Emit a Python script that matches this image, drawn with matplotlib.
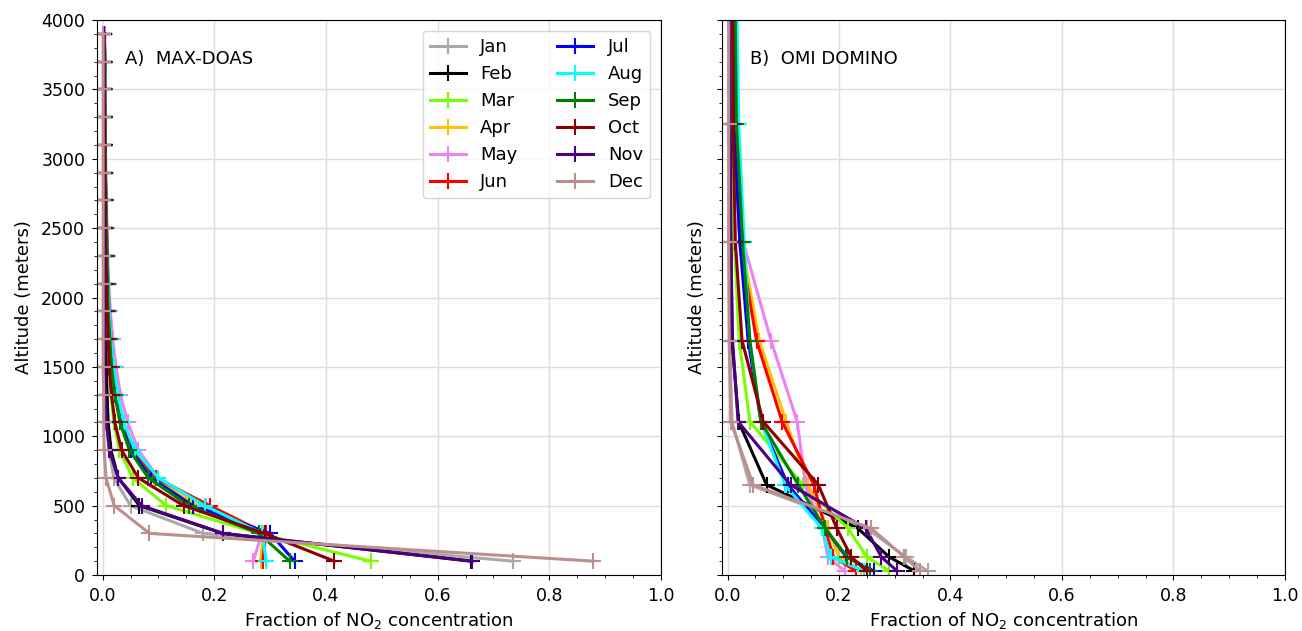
import matplotlib
matplotlib.use("Agg")
import matplotlib.pyplot as plt
from matplotlib.ticker import MultipleLocator

months = ["Jan", "Feb", "Mar", "Apr", "May", "Jun",
          "Jul", "Aug", "Sep", "Oct", "Nov", "Dec"]
colors = ["darkgray", "black", "lawngreen", "#ffc400", "violet", "red",
          "blue", "cyan", "green", "darkred", "indigo", "rosybrown"]

# Panel A: MAX-DOAS levels (m)
alt_maxdoas = [100, 300, 500, 700, 900, 1100, 1300, 1500, 1700, 1900,
               2100, 2300, 2500, 2700, 2900, 3100, 3300, 3500, 3700, 3900]
maxdoas = {
    "Jan": [0.735, 0.18, 0.05, 0.02, 0.012, 0.008, 0.006, 0.005, 0.004, 0.004, 0.003, 0.003, 0.003, 0.002, 0.002, 0.002, 0.002, 0.002, 0.002, 0.002],
    "Feb": [0.66, 0.215, 0.066, 0.028, 0.015, 0.01, 0.008, 0.007, 0.006, 0.005, 0.005, 0.004, 0.004, 0.004, 0.003, 0.003, 0.003, 0.003, 0.003, 0.003],
    "Mar": [0.48, 0.28, 0.114, 0.054, 0.03, 0.02, 0.015, 0.012, 0.01, 0.008, 0.007, 0.006, 0.005, 0.005, 0.004, 0.004, 0.004, 0.003, 0.003, 0.003],
    "Apr": [0.283, 0.288, 0.175, 0.092, 0.056, 0.036, 0.026, 0.02, 0.015, 0.012, 0.01, 0.008, 0.007, 0.006, 0.005, 0.005, 0.004, 0.004, 0.004, 0.003],
    "May": [0.27, 0.285, 0.185, 0.1, 0.064, 0.045, 0.032, 0.024, 0.018, 0.014, 0.011, 0.009, 0.008, 0.007, 0.006, 0.005, 0.005, 0.004, 0.004, 0.004],
    "Jun": [0.287, 0.292, 0.192, 0.095, 0.056, 0.036, 0.026, 0.019, 0.015, 0.012, 0.01, 0.008, 0.007, 0.006, 0.005, 0.005, 0.004, 0.004, 0.004, 0.003],
    "Jul": [0.344, 0.3, 0.162, 0.087, 0.05, 0.032, 0.023, 0.017, 0.013, 0.011, 0.009, 0.008, 0.007, 0.006, 0.005, 0.005, 0.004, 0.004, 0.004, 0.003],
    "Aug": [0.293, 0.286, 0.183, 0.1, 0.058, 0.038, 0.027, 0.02, 0.015, 0.012, 0.01, 0.008, 0.007, 0.006, 0.005, 0.005, 0.004, 0.004, 0.004, 0.003],
    "Sep": [0.335, 0.28, 0.154, 0.082, 0.048, 0.031, 0.022, 0.016, 0.013, 0.01, 0.009, 0.008, 0.007, 0.006, 0.005, 0.005, 0.004, 0.004, 0.004, 0.003],
    "Oct": [0.415, 0.29, 0.145, 0.064, 0.034, 0.022, 0.016, 0.012, 0.01, 0.008, 0.007, 0.006, 0.005, 0.005, 0.004, 0.004, 0.004, 0.003, 0.003, 0.003],
    "Nov": [0.662, 0.216, 0.07, 0.028, 0.012, 0.007, 0.005, 0.004, 0.004, 0.003, 0.003, 0.003, 0.003, 0.002, 0.002, 0.002, 0.002, 0.002, 0.002, 0.002],
    "Dec": [0.878, 0.084, 0.021, 0.006, 0.003, 0.002, 0.002, 0.001, 0.001, 0.001, 0.001, 0.001, 0.001, 0.001, 0.001, 0.001, 0.001, 0.001, 0.001, 0.001],
}

# Panel B: OMI DOMINO levels (m)
alt_omi = [30, 130, 336, 650, 1105, 1690, 2400, 3250, 4300]
omi = {
    "Jan": [0.359, 0.32, 0.25, 0.04, 0.008, 0.004, 0.003, 0.003, 0.003],
    "Feb": [0.335, 0.29, 0.234, 0.07, 0.02, 0.008, 0.006, 0.005, 0.004],
    "Mar": [0.29, 0.25, 0.216, 0.135, 0.04, 0.021, 0.012, 0.008, 0.006],
    "Apr": [0.24, 0.2, 0.18, 0.145, 0.105, 0.057, 0.025, 0.012, 0.008],
    "May": [0.21, 0.18, 0.17, 0.14, 0.125, 0.078, 0.028, 0.012, 0.008],
    "Jun": [0.23, 0.19, 0.175, 0.155, 0.098, 0.052, 0.022, 0.012, 0.009],
    "Jul": [0.262, 0.213, 0.175, 0.108, 0.06, 0.037, 0.022, 0.012, 0.009],
    "Aug": [0.245, 0.185, 0.169, 0.103, 0.06, 0.04, 0.03, 0.02, 0.016],
    "Sep": [0.255, 0.215, 0.175, 0.127, 0.06, 0.04, 0.027, 0.016, 0.013],
    "Oct": [0.25, 0.222, 0.196, 0.163, 0.064, 0.026, 0.014, 0.01, 0.009],
    "Nov": [0.304, 0.276, 0.248, 0.113, 0.019, 0.009, 0.006, 0.005, 0.004],
    "Dec": [0.345, 0.317, 0.258, 0.046, 0.006, 0.003, 0.002, 0.002, 0.002],
}

plt.rcParams["font.family"] = ["DejaVu Sans"]
fig = plt.figure(figsize=(13.02, 6.31), dpi=100)
ax1 = fig.add_axes([0.0745, 0.0887, 0.4332, 0.8796])
ax2 = fig.add_axes([0.5545, 0.0887, 0.4324, 0.8796])

for ax, alts, data, title in [(ax1, alt_maxdoas, maxdoas, "A)  MAX-DOAS"),
                              (ax2, alt_omi, omi, "B)  OMI DOMINO")]:
    for m, c in zip(months, colors):
        ax.plot(data[m], alts, color=c, lw=2.2, marker="+", ms=11, mew=1.5, label=m)
    ax.set_xlim(-0.01, 1.0)
    ax.set_ylim(0, 4000)
    ax.xaxis.set_major_locator(MultipleLocator(0.2))
    ax.xaxis.set_minor_locator(MultipleLocator(0.05))
    ax.yaxis.set_major_locator(MultipleLocator(500))
    ax.yaxis.set_minor_locator(MultipleLocator(100))
    ax.grid(True, which="major", color="#dddddd", lw=1)
    ax.set_axisbelow(True)
    ax.tick_params(labelsize=12.5, direction="out", pad=5)
    ax.set_xlabel("Fraction of NO$_2$ concentration", fontsize=13)
    ax.set_ylabel("Altitude (meters)", fontsize=13, labelpad=6)
    ax.text(0.05, 0.93, title, transform=ax.transAxes, fontsize=13, va="center")

ax2.tick_params(axis="y", labelleft=False)
ax1.legend(ncol=2, loc="upper right", fontsize=13, handlelength=2.0,
           columnspacing=2.2, framealpha=0.8, borderaxespad=0.6)

fig.savefig("out.png", dpi=100)
